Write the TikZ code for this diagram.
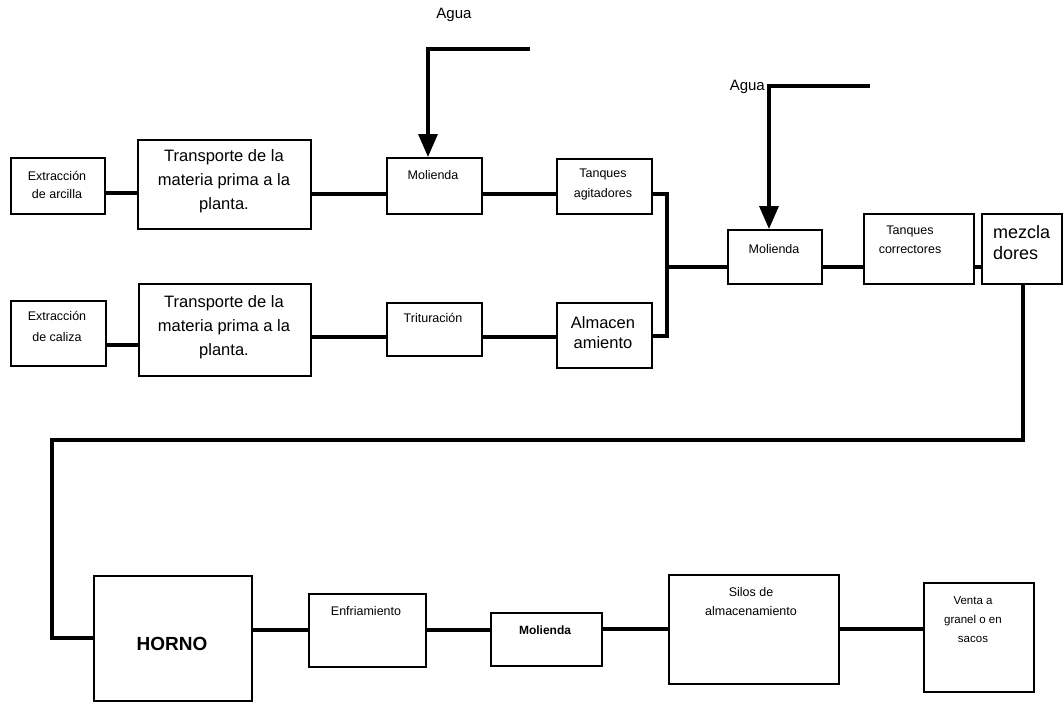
\documentclass[tikz,border=0pt]{standalone}
\usepackage{fontspec}
\setmainfont{Liberation Sans}
\usetikzlibrary{arrows.meta}

\tikzset{
  box/.style={draw, line width=1.8pt, inner sep=0pt, anchor=north west},
  conn/.style={line width=3.6pt},
  feed/.style={line width=3.4pt, -{Triangle[length=23pt, width=19pt]}},
  lbl/.style={inner sep=0pt, align=center},
  big/.style={lbl, font=\fontsize{16.5}{24}\selectfont},
  small/.style={lbl, font=\fontsize{12.5}{19}\selectfont},
}

\begin{document}
\begin{tikzpicture}[x=1pt, y=-1pt]
\useasboundingbox (0,0) rectangle (1063,702);

% ---- clay line (top row)
\node[box, minimum width=94pt,  minimum height=56pt] (ea) at (10,157)  {};
\node[box, minimum width=173pt, minimum height=89pt] (t1) at (137,139) {};
\node[box, minimum width=95pt,  minimum height=56pt] (m1) at (386,157) {};
\node[box, minimum width=95pt,  minimum height=55pt] (ta) at (556,158) {};

% ---- limestone line (second row)
\node[box, minimum width=95pt,  minimum height=65pt] (ec) at (10,300)  {};
\node[box, minimum width=172pt, minimum height=92pt] (t2) at (138,283) {};
\node[box, minimum width=95pt,  minimum height=53pt] (tr) at (386,302) {};
\node[box, minimum width=95pt,  minimum height=65pt] (al) at (556,302) {};

% ---- mixing
\node[box, minimum width=94pt,  minimum height=54pt] (m2) at (727,229) {};
\node[box, minimum width=110pt, minimum height=70pt] (tc) at (863,213) {};
\node[box, minimum width=80pt,  minimum height=70pt] (mz) at (981,213) {};

% ---- kiln and dispatch
\node[box, minimum width=158pt, minimum height=125pt] (ho) at (93,575)  {};
\node[box, minimum width=117pt, minimum height=73pt]  (en) at (308,593) {};
\node[box, minimum width=111pt, minimum height=53pt]  (m3) at (490,612) {};
\node[box, minimum width=170pt, minimum height=109pt] (si) at (668,574) {};
\node[box, minimum width=110pt, minimum height=109pt] (ve) at (923,582) {};

% ---- texts
\node[small, font=\fontsize{12.5}{18}\selectfont] (tea) at (57,185)  {Extracción\\de arcilla};
\node[big]   (tt1) at (224,181) {Transporte de la\\materia prima a la\\planta.};
\node[small] (tm1) at (433,175) {Molienda};
\node[small, font=\fontsize{12.5}{20}\selectfont] (tta) at (603,184) {Tanques\\agitadores};
\node[small, font=\fontsize{12.5}{21}\selectfont] (tec) at (57,326)  {Extracción\\de caliza};
\node[big]   (tt2) at (224,327) {Transporte de la\\materia prima a la\\planta.};
\node[small] (ttr) at (433,318) {Trituración};
\node[big, font=\fontsize{16.5}{20}\selectfont] (tal) at (603,333) {Almacen\\amiento};
\node[small] (tm2) at (774,249) {Molienda};
\node[small] (ttc) at (910,240) {Tanques\\correctores};
\node[big, anchor=west, align=left, font=\fontsize{18}{21}\selectfont] (tmz) at (993,243) {mezcla\\dores};
\node[lbl, font=\bfseries\fontsize{19}{22}\selectfont] (tho) at (172,644) {HORNO};
\node[small] (ten) at (366,611) {Enfriamiento};
\node[small, font=\bfseries\fontsize{12}{19}\selectfont] (tm3) at (545,630) {Molienda};
\node[small] (tsi) at (751,602) {Silos de\\almacenamiento};
\node[small, font=\fontsize{11.5}{19}\selectfont] (tve) at (973,620) {Venta a\\granel o en\\sacos};

% ---- water feeds
\node[lbl, font=\fontsize{15}{18}\selectfont] (w1) at (454,15) {Agua};
\coordinate (a1e) at (530,49);
\coordinate (a1c) at (428,49);
\draw[feed] (a1e) -- (a1c) -- (a1c |- m1.north);

\node[lbl, font=\fontsize{15}{18}\selectfont, anchor=east] (w2) at (765,87) {Agua};
\coordinate (a2e) at (870,86);
\coordinate (a2c) at (769,86);
\draw[feed] (a2e) -- (a2c) -- (a2c |- m2.north);

% ---- connectors, top row
\draw[conn] (ea.east |- 0,193) -- (t1.west |- 0,193);
\draw[conn] (t1.east |- 0,194) -- (m1.west |- 0,194);
\draw[conn] (m1.east |- 0,194) -- (ta.west |- 0,194);

% ---- connectors, second row
\draw[conn] (ec.east |- 0,345) -- (t2.west |- 0,345);
\draw[conn] (t2.east |- 0,337) -- (tr.west |- 0,337);
\draw[conn] (tr.east |- 0,337) -- (al.west |- 0,337);

% ---- joining both lines into the mill
\coordinate (jn) at (667,267);
\draw[conn] (ta.east |- 0,194) -- (jn |- 0,194) -- (jn |- 0,336) -- (al.east |- 0,336);
\draw[conn] (jn) -- (m2.west |- jn);
\draw[conn] (m2.east |- jn) -- (tc.west |- jn);
\draw[conn] (tc.east |- jn) -- (mz.west |- jn);

% ---- return to the kiln
\coordinate (r1) at (1023,440);
\coordinate (r2) at (52,440);
\draw[conn] (mz.south -| r1) -- (r1) -- (r2) -- (r2 |- 0,638) -- (ho.west |- 0,638);

% ---- connectors, bottom row
\draw[conn] (ho.east |- 0,630) -- (en.west |- 0,630);
\draw[conn] (en.east |- 0,630) -- (m3.west |- 0,630);
\draw[conn] (m3.east |- 0,629) -- (si.west |- 0,629);
\draw[conn] (si.east |- 0,629) -- (ve.west |- 0,629);
\end{tikzpicture}
\end{document}
